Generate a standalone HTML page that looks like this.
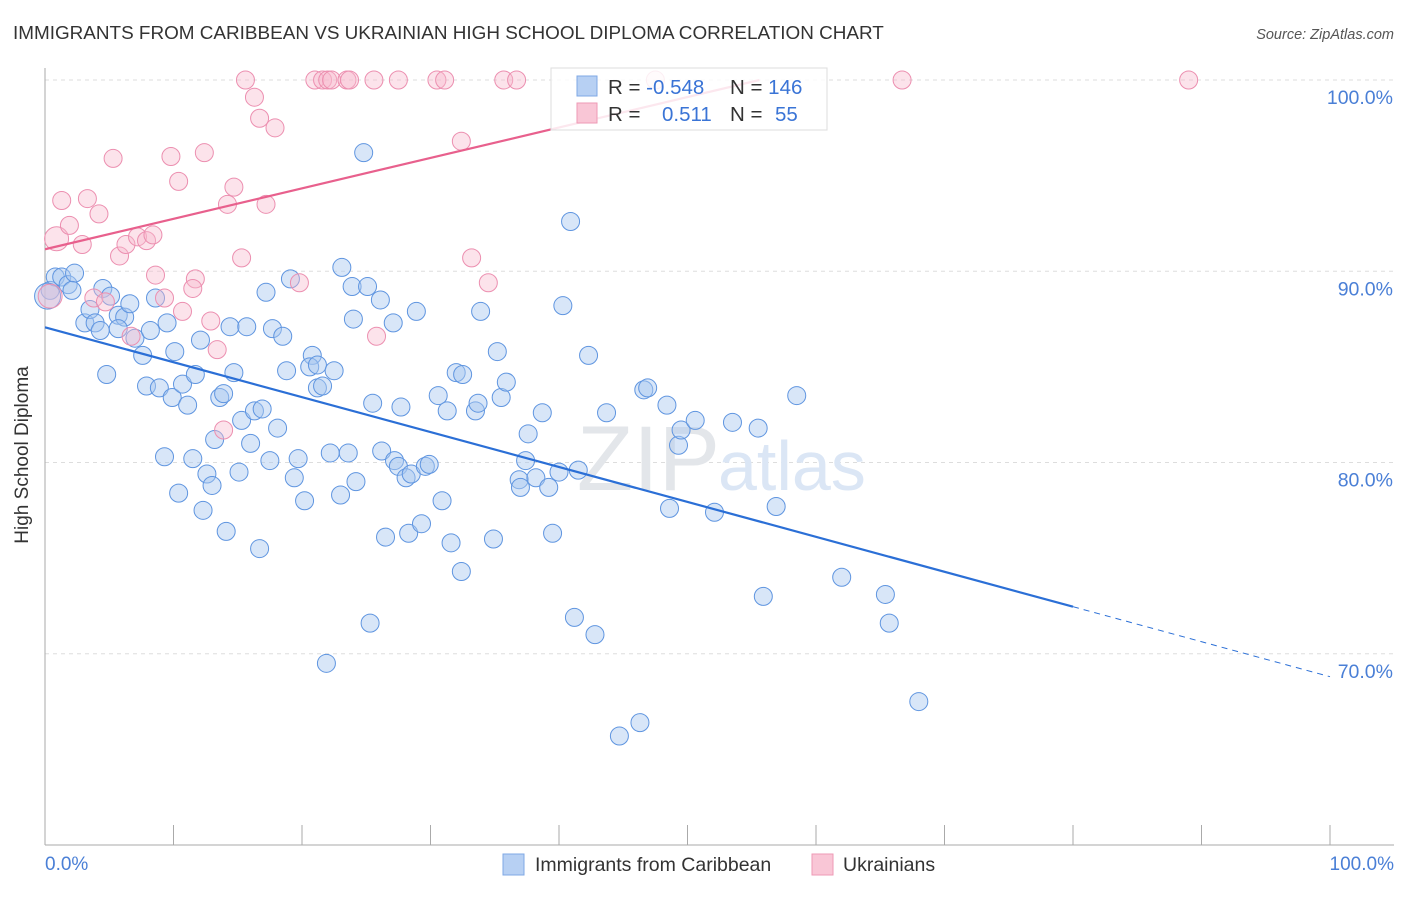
<!DOCTYPE html>
<html><head><meta charset="utf-8"><style>
body{margin:0;background:#fff;font-family:"Liberation Sans",sans-serif}
svg text{font-family:"Liberation Sans",sans-serif}
</style></head><body>
<svg width="1406" height="892" xmlns="http://www.w3.org/2000/svg">
<text x="13" y="39" font-size="18.9" fill="#333">IMMIGRANTS FROM CARIBBEAN VS UKRAINIAN HIGH SCHOOL DIPLOMA CORRELATION CHART</text>
<text x="1394" y="39" font-size="14.5" fill="#555" font-style="italic" text-anchor="end">Source: ZipAtlas.com</text>
<g id="grid"></g>
<text x="720" y="490" font-size="92" fill="#e3e6ea" text-anchor="end" font-family="Liberation Serif">ZIP</text>
<text x="718" y="490" font-size="70" fill="#dbe6f5">atlas</text>
<g id="axes"></g>
<g id="pts"></g>
<g id="lines"></g>
<text x="28" y="455" font-size="19" fill="#333" text-anchor="middle" transform="rotate(-90 28 455)">High School Diploma</text>
<text x="45" y="870" font-size="19" fill="#4a7fd6">0.0%</text>
<text x="1394" y="870" font-size="19" fill="#4a7fd6" text-anchor="end">100.0%</text>
<g>
<rect x="551" y="68" width="276" height="62" fill="#fff" stroke="#ddd" fill-opacity="0.85"/>
<rect x="577" y="76" width="20" height="20" fill="#b7d0f3" stroke="#7fa8e6"/>
<rect x="577" y="103" width="20" height="20" fill="#f9c6d6" stroke="#ee9ab5"/>
<text x="608" y="94" font-size="20.5" fill="#333">R = <tspan fill="#3a74d6">-0.548</tspan><tspan x="730">N = </tspan><tspan fill="#3a74d6">146</tspan></text>
<text x="608" y="121" font-size="20.5" fill="#333">R = <tspan x="662" fill="#3a74d6">0.511</tspan><tspan x="730">N = </tspan><tspan x="775" fill="#3a74d6">55</tspan></text>
</g>
<g><rect x="503" y="854" width="21" height="21" fill="#b7d0f3" stroke="#7fa8e6"/><text x="535" y="871" font-size="19.5" fill="#333">Immigrants from Caribbean</text></g>
<g><rect x="812" y="854" width="21" height="21" fill="#f9c6d6" stroke="#ee9ab5"/><text x="843" y="871" font-size="19.5" fill="#333">Ukrainians</text></g>
</svg>
<script>
const yTicks=[100,90,80,70];
const yTickLabels=["100.0%","90.0%","80.0%","70.0%"];
const xTicks=[0,10,20,30,40,50,60,70,80,90,100];
const blueX=[0.4,0.8,1.3,1.8,2.3,2.1,3.1,3.5,3.9,4.3,4.5,5.1,4.8,5.7,6.2,5.7,6.6,7.0,7.6,8.2,8.6,7.9,8.9,9.5,9.9,10.1,10.7,11.1,11.7,12.1,9.3,10.4,11.5,12.6,13.0,12.3,13.2,13.6,13.9,14.4,14.7,15.7,15.3,16.0,15.1,14.1,16.3,16.9,17.2,17.5,18.1,17.7,18.5,16.7,19.1,19.4,18.8,19.7,20.2,20.8,20.6,21.2,21.2,21.6,22.5,22.2,23.1,23.6,23.0,23.9,24.0,24.2,25.1,25.5,26.1,24.8,26.2,26.5,27.1,27.2,27.5,27.7,28.1,28.5,28.9,28.3,29.3,29.6,29.9,30.6,30.9,31.3,31.6,32.0,32.5,32.4,33.5,33.7,33.9,34.9,35.2,35.5,35.9,36.9,37.0,37.4,37.6,38.2,38.7,39.2,39.5,40.0,40.9,40.3,41.5,41.2,42.3,42.8,43.7,44.7,46.3,46.6,46.9,48.4,48.6,49.3,49.5,50.6,52.1,53.5,55.5,55.9,56.9,58.5,62.0,65.4,65.7,68.0,21.9,25.3,0.2];
const blueY=[89.0,89.7,89.7,89.3,89.9,89.0,87.3,88.0,87.3,86.9,89.1,88.7,84.6,87.7,87.6,87.0,88.3,86.5,85.6,86.9,88.6,84.0,83.9,87.3,83.4,85.8,84.1,83.0,84.6,86.4,80.3,78.4,80.2,79.4,78.8,77.5,81.2,83.4,83.6,87.1,84.7,87.1,82.2,81.0,79.5,76.4,82.7,82.8,88.9,80.1,81.8,87.0,86.6,75.5,89.6,79.2,84.8,80.2,78.0,85.6,85.0,85.1,83.9,84.0,84.8,80.5,90.2,80.5,78.3,89.2,87.5,79.0,89.2,83.1,88.5,96.2,80.6,76.1,87.3,80.1,79.8,82.9,79.2,79.4,87.9,76.3,76.8,79.8,79.9,83.5,78.0,82.7,75.8,84.7,84.6,74.3,82.7,83.1,87.9,76.0,85.8,83.4,84.2,79.1,78.7,80.1,81.5,79.2,82.6,78.7,76.3,79.5,92.6,88.2,79.6,71.9,85.6,71.0,82.6,65.7,66.4,83.8,83.9,83.0,77.6,80.9,81.7,82.2,77.4,82.1,81.8,73.0,77.7,83.5,74.0,73.1,71.6,67.5,69.5,71.6,88.7];
const pinkX=[0.9,0.4,1.3,1.9,2.9,3.3,4.2,3.8,4.7,5.3,5.8,6.3,7.2,7.9,8.4,8.6,6.7,9.3,9.8,10.4,10.7,11.7,11.5,12.4,12.9,13.4,13.9,14.2,14.7,15.3,15.6,16.3,16.7,17.2,17.9,19.8,21.0,21.6,22.0,22.3,23.5,23.7,25.6,25.8,27.5,30.5,31.1,32.4,33.2,34.5,35.7,36.7,47.5,66.7,89.0];
const pinkY=[91.7,88.7,93.7,92.4,91.4,93.8,93.0,88.6,88.4,95.9,90.8,91.4,91.8,91.6,91.9,89.8,86.6,88.6,96.0,94.7,87.9,89.6,89.1,96.2,87.4,85.9,81.7,93.5,94.4,90.7,100,99.1,98.0,93.5,97.5,89.4,100,100,100,100,100,100,100,86.6,100,100,100,96.8,90.7,89.4,100,100,100,100,100];
const blueTrend=[[0,87.07],[80,72.46],[100,68.8]];
const pinkTrend=[[0,91.15],[55.6,100]];
const X=v=>45+v*12.85, Y=v=>80+(100-v)*19.125;
const NS="http://www.w3.org/2000/svg";
function mk(p,t,a){const e=document.createElementNS(NS,t);for(const k in a)e.setAttribute(k,a[k]);document.getElementById(p).appendChild(e);return e;}
yTicks.forEach((t,i)=>{
 const l=mk('grid','line',{x1:45,x2:1394,y1:Y(t),y2:Y(t),stroke:'#ddd','stroke-dasharray':'4,4'});
 
 
 const tx=mk('grid','text',{x:1393,y:Y(t)+24,'font-size':19.5,fill:'#4a7fd6','text-anchor':'end'});
 tx.textContent=yTickLabels[i];
 
 
});
const ya=mk('axes','line',{x1:45,x2:45,y1:68,y2:845,stroke:'#aaa'});


const xa=mk('axes','line',{x1:45,x2:1394,y1:845,y2:845,stroke:'#aaa'});


xTicks.forEach(t=>{
 const l=mk('axes','line',{x1:X(t),x2:X(t),y1:825,y2:845,stroke:'#aaa'});
 
 
});
blueX.forEach((v,i)=>{
 const c=mk('pts','circle',{cx:X(v),cy:Y(blueY[i]),r:i==blueX.length-1?13:9,fill:'#a9c8f0','fill-opacity':0.45,stroke:'#5f95e0','stroke-width':1});
 
 
});
pinkX.forEach((v,i)=>{
 const c=mk('pts','circle',{cx:X(v),cy:Y(pinkY[i]),r:i<2?12:9,fill:'#f7b9cc','fill-opacity':0.4,stroke:'#ec8fb0','stroke-width':1});
 
 
});
const b1=mk('lines','line',{x1:X(blueTrend[0][0]),y1:Y(blueTrend[0][1]),x2:X(blueTrend[1][0]),y2:Y(blueTrend[1][1]),stroke:'#2b6fd6','stroke-width':2.2});


const b2=mk('lines','line',{x1:X(blueTrend[1][0]),y1:Y(blueTrend[1][1]),x2:X(blueTrend[2][0]),y2:Y(blueTrend[2][1]),stroke:'#2b6fd6','stroke-width':1,'stroke-dasharray':'6,5'});


const p1=mk('lines','line',{x1:X(pinkTrend[0][0]),y1:Y(pinkTrend[0][1]),x2:X(pinkTrend[1][0]),y2:Y(pinkTrend[1][1]),stroke:'#e8608d','stroke-width':2.2});


</script>
</body></html>
